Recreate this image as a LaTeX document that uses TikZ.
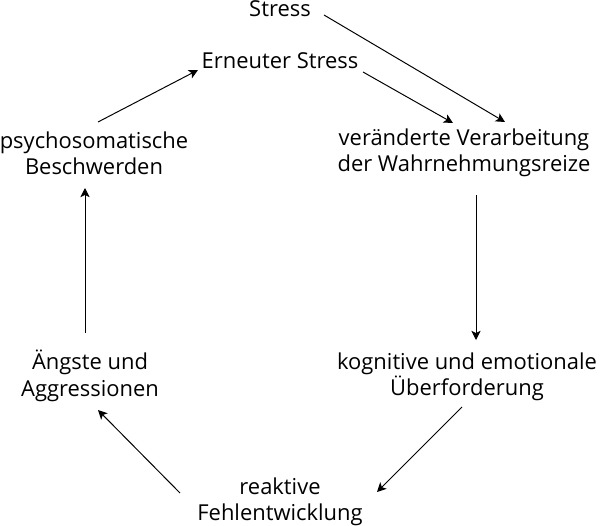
\documentclass[tikz,border=0pt]{standalone}
\usepackage{fontspec}
\setmainfont{Open Sans}
\usetikzlibrary{arrows.meta}

\begin{document}
\begin{tikzpicture}[
    x=0.025cm, y=-0.025cm,
    node/.style={font=\fontsize{15.6}{18.8}\selectfont, align=center, inner sep=0pt},
    arr/.style={-{Stealth[length=6.5pt,width=6.5pt,inset=1.6pt]}, line width=0.7pt}
  ]
  \useasboundingbox (0,0) rectangle (600,526);

  \node[node] (stress) at (280,9) {Stress};
  \node[node] (erneut) at (280,61) {Erneuter Stress};
  \node[node] (verarb) at (464,153) {veränderte Verarbeitung\\der Wahrnehmungsreize};
  \node[node] (kogn) at (467,377) {kognitive und emotionale\\Überforderung};
  \node[node] (reakt) at (280,502) {reaktive\\Fehlentwicklung};
  \node[node] (angst) at (90,376) {Ängste und\\Aggressionen};
  \node[node] (psycho) at (94,153) {psychosomatische\\Beschwerden};

  \draw[arr] ([shift={(44,6)}]stress.center) -- ([shift={(41,-31)}]verarb.center);
  \draw[arr] ([shift={(83,11)}]erneut.center) -- ([shift={(-11,-30)}]verarb.center);
  \draw[arr] ([shift={(12,42)}]verarb.center) -- ([shift={(9,-37)}]kogn.center);
  \draw[arr] ([shift={(-5,30)}]kogn.center) -- ([shift={(97,-10)}]reakt.center);
  \draw[arr] ([shift={(-100,-9)}]reakt.center) -- ([shift={(8,34)}]angst.center);
  \draw[arr] ([shift={(-5,-43)}]angst.center) -- ([shift={(-9,35)}]psycho.center);
  \draw[arr] ([shift={(4,-31)}]psycho.center) -- ([shift={(-82,9)}]erneut.center);
\end{tikzpicture}
\end{document}
